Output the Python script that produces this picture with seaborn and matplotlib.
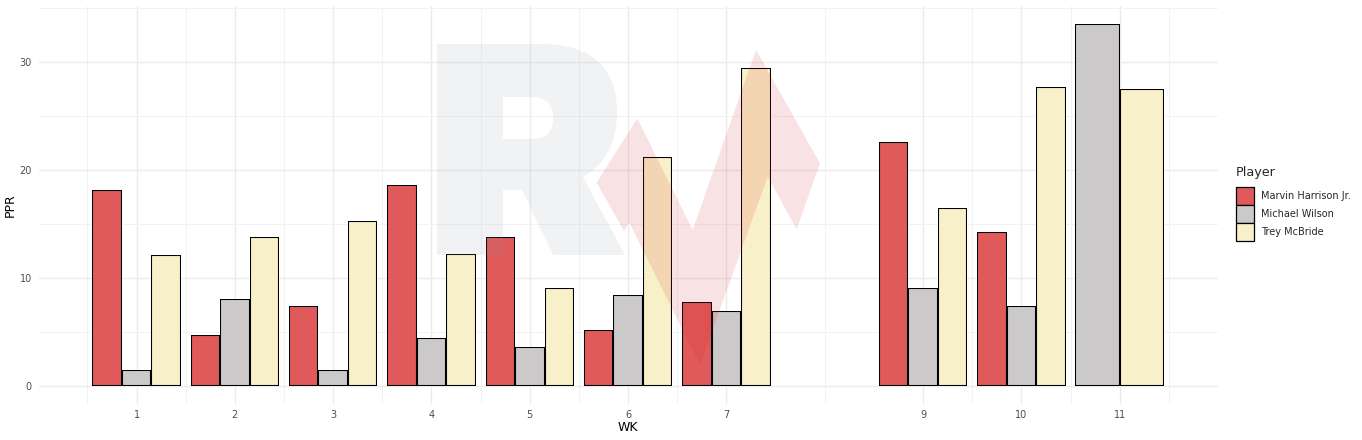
import numpy as np
import pandas as pd
import matplotlib
matplotlib.use("Agg")
import matplotlib.pyplot as plt
from matplotlib.path import Path
from matplotlib.patches import PathPatch, Polygon, Patch
import seaborn as sns
import seaborn.objects as so

# Weekly PPR fantasy points per player
mhj_weeks = [1, 2, 3, 4, 5, 6, 7, 9, 10]
mhj_ppr = [18.1, 4.7, 7.4, 18.6, 13.8, 5.2, 7.8, 22.6, 14.3]

wilson_weeks = [1, 2, 3, 4, 5, 6, 7, 9, 10, 11]
wilson_ppr = [1.5, 8.1, 1.5, 4.5, 3.6, 8.4, 7.0, 9.1, 7.4, 33.5]

mcbride_weeks = [1, 2, 3, 4, 5, 6, 7, 9, 10, 11]
mcbride_ppr = [12.1, 13.8, 15.3, 12.2, 9.1, 21.2, 29.4, 16.5, 27.7, 27.5]

players = ["Marvin Harrison Jr.", "Michael Wilson", "Trey McBride"]
player_colors = ["#E0595B", "#CBC9CA", "#F8F0C8"]
week_breaks = [1, 2, 3, 4, 5, 6, 7, 9, 10, 11]

df = pd.concat([
    pd.DataFrame({"WK": mhj_weeks, "PPR": mhj_ppr, "Player": players[0]}),
    pd.DataFrame({"WK": wilson_weeks, "PPR": wilson_ppr, "Player": players[1]}),
    pd.DataFrame({"WK": mcbride_weeks, "PPR": mcbride_ppr, "Player": players[2]}),
], ignore_index=True)

sns.set_theme(style="white")
plt.rcParams["font.family"] = ["DejaVu Sans"]

W, H = 1362, 440
fig = plt.figure(figsize=(W / 100, H / 100), dpi=100)
fig.patch.set_facecolor("white")
ax = fig.add_axes([38.7 / W, 1 - 404.4 / H, (1217.5 - 38.7) / W, (404.4 - 5.7) / H])

palette = dict(zip(players, player_colors))
(
    so.Plot(df, x="WK", y="PPR", color="Player")
    .add(so.Bar(width=0.9, alpha=1, edgecolor="black", edgewidth=0.75),
         so.Dodge(empty="fill"), legend=False)
    .scale(color=palette)
    .on(ax)
    .plot()
)

ax.set_facecolor("white")
ax.set_xlim(0.005, 11.995)
ax.set_ylim(-1.675, 35.175)
ax.set_xticks(week_breaks)
ax.set_xticklabels([str(w) for w in week_breaks])
ax.set_yticks([0, 10, 20, 30])
ax.set_yticklabels(["0", "10", "20", "30"])
x_minor = [0.5, 1.5, 2.5, 3.5, 4.5, 5.5, 6.5, 8, 9.5, 10.5, 11.5]
ax.set_xticks(x_minor, minor=True)
ax.set_yticks([5, 15, 25, 35], minor=True)
ax.grid(True, which="major", color="#EBEBEB", linewidth=1.0)
ax.grid(True, which="minor", color="#F2F2F2", linewidth=0.7)
ax.set_axisbelow(True)
for s in ax.spines.values():
    s.set_visible(False)
ax.tick_params(axis="both", which="both", length=0, labelsize=7, labelcolor="#4D4D4D")
ax.tick_params(axis="y", pad=5)
ax.tick_params(axis="x", pad=4)
ax.set_xlabel("WK", fontsize=9, color="black", labelpad=1)
ax.set_ylabel("PPR", fontsize=9, color="black", labelpad=2)

# Legend
handles = [Patch(facecolor=c, edgecolor="black", linewidth=0.9) for c in player_colors]
leg = fig.legend(handles, players, title="Player", loc="upper left",
                 bbox_to_anchor=(1234 / W, 1 - 164 / H), frameon=False,
                 fontsize=7, title_fontsize=9.2, handlelength=1.85,
                 handleheight=2.45, labelspacing=0.0, handletextpad=0.75,
                 borderaxespad=0, borderpad=0.2)
leg._legend_box.align = "left"
leg._legend_box.sep = 6

# Background logo overlay
def fxy(pts):
    return [(x / W, 1 - y / H) for x, y in pts]

M, L, C, Z = Path.MOVETO, Path.LINETO, Path.CURVE4, Path.CLOSEPOLY
outer = [(437, 44), (540, 44), (597, 44), (617, 72), (617, 112),
         (617, 145), (603, 166), (583, 177), (625, 255), (553, 255),
         (522, 190), (503, 190), (503, 255), (437, 255), (437, 44)]
outer_codes = [M, L, C, C, C, C, C, C, L, L, L, L, L, L, Z]
hole = [(503, 97), (503, 139), (531, 139), (547, 139), (553, 131), (553, 118),
        (553, 105), (547, 97), (531, 97), (503, 97)]
hole_codes = [M, L, L, C, C, C, C, C, C, Z]
r_path = Path(fxy(outer + hole), outer_codes + hole_codes)
fig.add_artist(PathPatch(r_path, facecolor=(0.56, 0.6, 0.66), alpha=0.12,
                         edgecolor="none", transform=fig.transFigure, zorder=5))

arrow = [(596.7, 182.7), (637.3, 118.3), (692.7, 230), (756, 50), (820, 163.3),
         (796.7, 229.3), (767.7, 176.7), (700, 365), (629.3, 222.7), (624, 231)]
fig.add_artist(Polygon(fxy(arrow), closed=True, facecolor=(0.84, 0.15, 0.16),
                       alpha=0.13, edgecolor="none", transform=fig.transFigure,
                       zorder=5))

fig.savefig("out.png", dpi=100, facecolor="white")
